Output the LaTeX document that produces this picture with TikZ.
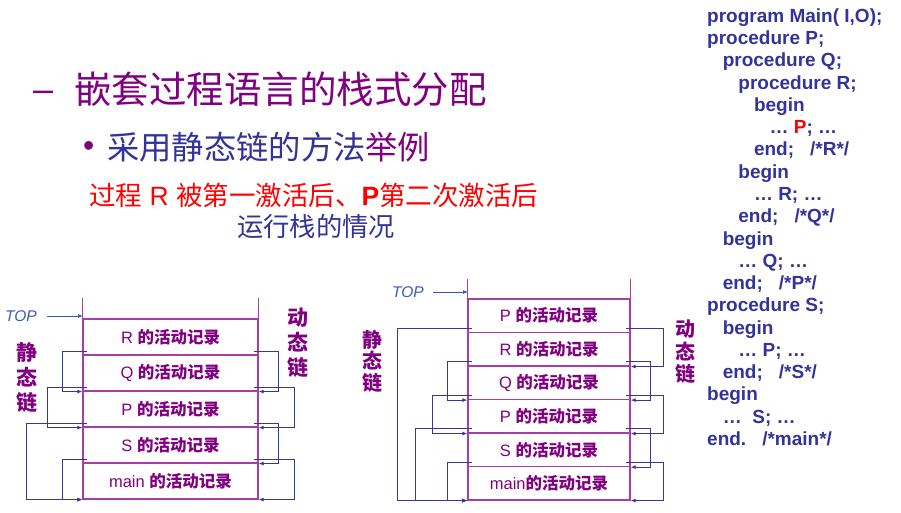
\documentclass[tikz,border=0pt]{standalone}
\usepackage{fontspec}
\setmainfont{Liberation Sans}
\newfontfamily\cjk{Noto Sans CJK SC}
\usepackage{xcolor}
\usepackage{tikz}
\usetikzlibrary{arrows.meta,calc}

\definecolor{recpurple}{RGB}{170,60,170}
\definecolor{txtpurple}{RGB}{128,0,128}
\definecolor{codeblue}{RGB}{51,51,153}
\definecolor{linkblue}{RGB}{55,55,155}
\definecolor{topblue}{RGB}{60,90,180}

\tikzset{
	rec/.style={draw=recpurple,line width=1.2pt,inner sep=0pt,text=txtpurple,font=\fontsize{16.5}{16.5}\selectfont},
	stack/.style={recpurple,line width=0.8pt},
	link/.style={linkblue,line width=1.2pt,-{Latex[length=5pt,width=4pt]}},
	topline/.style={topblue,line width=0.8pt,-{Latex[length=5pt,width=4pt]}},
	chain/.style={text=txtpurple,font=\cjk\bfseries\fontsize{21}{25}\selectfont,align=center,inner sep=0pt},
	code/.style={anchor=base west,inner sep=0pt,text=codeblue,font=\fontsize{19}{19}\selectfont\bfseries},
	toplbl/.style={text=topblue,font=\fontsize{15.5}{15.5}\selectfont\itshape,inner sep=0pt},
	head/.style={anchor=west,inner sep=0pt}
}

\begin{document}
\begin{tikzpicture}[x=1pt,y=-1pt]
	\useasboundingbox (0,0) rectangle (901,513);
	
	% headings
	\node[head,text=txtpurple,font=\fontsize{36}{36}\selectfont] (dash) at (33,96) {–};
	\node[head,text=txtpurple,font=\cjk\fontsize{37.5}{37.5}\selectfont] (title) at (74,89) {嵌套过程语言的栈式分配};
	\node[head,text=txtpurple,font=\fontsize{32}{32}\selectfont] (bullet) at (83,149) {•};
	\node[head,text=codeblue,font=\cjk\fontsize{32.3}{32.3}\selectfont] (sub) at (107,147) {采用静态链的方法\textcolor{txtpurple}{举例}};
	\node[head,text=red,font=\fontsize{26.5}{26.5}\selectfont] (cap1) at (89,195) {{\cjk 过程} R {\cjk 被第一激活后、}\textbf{P}{\cjk 第二次激活后}};
	\node[head,text=codeblue,font=\cjk\fontsize{26.3}{26.3}\selectfont] (cap2) at (237,227) {运行栈的情况};
	
	% left stack
	\foreach \t [count=\i] in {R,Q,P,S,main}{
		\node[rec,minimum width=175,minimum height=36] (L\i) at (170.5,{301+36*\i}) {\t\ {\cjk\bfseries 的活动记录}};
	}
	\draw[stack] ($(L1.north west)+(0,-20)$) -- (L5.south west);
	\draw[stack] ($(L1.north east)+(0,-20)$) -- (L5.south east);
	\node[toplbl] (Ltop) at (21,316) {TOP};
	\coordinate (Ltip) at (83,316);
	\draw[topline] ($(Ltop.east)+(10,0)$) -- (Ltip);
	
	\foreach \i/\j/\d in {1/2/25,2/3/40,3/5/61,4/5/25}{
		\draw[link] ($(L\i.south west)+(5,-4.5)$) -- ++(-\d,0) |- (L\j.south west);
	}
	\foreach \i/\j/\d in {1/2/25,2/3/41,3/4/25,4/5/41}{
		\draw[link] ($(L\i.south east)+(-5,-4.5)$) -- ++(\d,0) |- (L\j.south east);
	}
	\node[chain] (Lstat) at (27,378) {静\\态\\链};
	\node[chain] (Ldyn) at (298,343) {动\\态\\链};
	
	% right stack
	\foreach \t [count=\i] in {P,R,Q,P,S}{
		\node[rec,minimum width=162,minimum height=33.5] (R\i) at (549,{282.25+33.5*\i}) {\t\ {\cjk\bfseries 的活动记录}};
	}
	\node[rec,minimum width=162,minimum height=33.5] (R6) at (549,483.25) {main{\cjk\bfseries 的活动记录}};
	\draw[stack] ($(R1.north west)+(0,-19)$) -- (R6.south west);
	\draw[stack] ($(R1.north east)+(0,-19)$) -- (R6.south east);
	\node[toplbl] (Rtop) at (408,292) {TOP};
	\coordinate (Rtip) at (468,292);
	\draw[topline] ($(Rtop.east)+(9,0)$) -- (Rtip);
	
	\foreach \i/\j/\d in {1/6/75,2/3/25,3/4/40,4/6/57,5/6/25}{
		\draw[link] ($(R\i.south west)+(5,-5)$) -- ++(-\d,0) |- (R\j.south west);
	}
	\foreach \i/\j/\d in {1/2/38,2/3/25,3/4/38,4/5/25,5/6/38}{
		\draw[link] ($(R\i.south east)+(-5,-5)$) -- ++(\d,0) |- (R\j.south east);
	}
	\node[chain,font=\cjk\bfseries\fontsize{20}{21.5}\selectfont] (Rstat) at (372,361) {静\\态\\链};
	\node[chain,font=\cjk\bfseries\fontsize{20}{22.5}\selectfont] (Rdyn) at (685,352) {动\\态\\链};
	
	% program text
	\foreach \lv/\txt [count=\i] in {0/{program Main( I,O);},0/{procedure P;},1/{procedure Q;},2/{procedure R;},
		3/{begin},4/{… \textcolor{red}{P}; …},3/{end;\hspace{16pt}/*R*/},2/{begin},3/{… R; …},2/{end;\hspace{16pt}/*Q*/},
		1/{begin},2/{… Q; …},1/{end;\hspace{16pt}/*P*/},0/{procedure S;},1/{begin},2/{… P; …},1/{end;\hspace{16pt}/*S*/},
		0/{begin},1/{…\ \ S; …},0/{end.\hspace{16pt}/*main*/}}{
		\node[code] (c\i) at ({707+15.6*\lv},{22.5+22.25*(\i-1)}) {\txt};
	}
\end{tikzpicture}
\end{document}
